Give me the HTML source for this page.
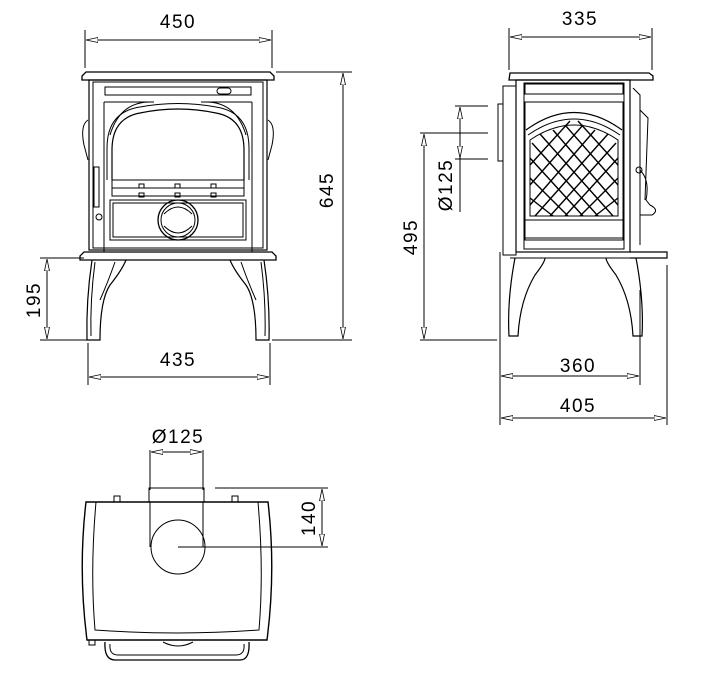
<!DOCTYPE html>
<html><head><meta charset="utf-8"><style>
html,body{margin:0;padding:0;background:#fff;}
svg{display:block;}
text{font-family:"Liberation Sans",sans-serif;font-size:19px;fill:#000;letter-spacing:1.5px;}
</style></head><body>
<svg width="709" height="680" viewBox="0 0 709 680" xmlns="http://www.w3.org/2000/svg">
<defs>
<marker id="a" viewBox="0 0 12 6" refX="12" refY="3" markerWidth="12" markerHeight="6" orient="auto-start-reverse" markerUnits="userSpaceOnUse">
<path d="M0,0.5 L12,3 L0,5.5 Z" fill="#fff" stroke="#000" stroke-width="0.8"/>
</marker>
</defs>
<g fill="none" stroke="#000" stroke-width="1">
<line x1="85" y1="30" x2="85" y2="68"/><line x1="272" y1="30" x2="272" y2="68"/>
<line x1="86" y1="40" x2="271" y2="40" marker-start="url(#a)" marker-end="url(#a)"/>
<line x1="276" y1="72" x2="352" y2="72"/><line x1="272" y1="340" x2="352" y2="340"/>
<line x1="343" y1="73" x2="343" y2="339" marker-start="url(#a)" marker-end="url(#a)"/>
<line x1="40" y1="258" x2="84" y2="258"/><line x1="40" y1="340" x2="88" y2="340"/>
<line x1="47" y1="259" x2="47" y2="339" marker-start="url(#a)" marker-end="url(#a)"/>
<line x1="88" y1="343" x2="88" y2="385"/><line x1="270" y1="343" x2="270" y2="385"/>
<line x1="89" y1="377" x2="269" y2="377" marker-start="url(#a)" marker-end="url(#a)"/>
<path d="M86,72 H270 L274,76 V80 H82 V76 Z" stroke-width="1.3"/>
<rect x="89" y="80" width="178" height="170" stroke-width="1.2"/>
<rect x="93" y="82" width="170" height="166"/>
<rect x="105" y="87" width="146" height="8"/>
<rect x="217" y="88" width="14" height="6" rx="3"/>
<path d="M104,102 H154 M252,102 H201"/>
<path d="M104,102 V252 M252,102 V252"/>
<path d="M110,135 Q120,102 150,102 M246,135 Q236,102 206,102"/>
<path d="M112,180 V150 Q112,118 140,113 Q178,105 216,113 Q244,118 244,150 V180" stroke-width="1.2"/>
<path d="M107,180 V148 Q107,112 140,107 Q178,100 216,107 Q249,112 249,148 V180"/>
<rect x="112" y="180" width="132" height="8"/><rect x="112" y="188" width="132" height="8"/>
<rect x="139" y="184" width="5" height="4"/><rect x="175" y="184" width="5" height="4"/><rect x="211" y="184" width="5" height="4"/>
<rect x="139" y="193" width="5" height="4"/><rect x="175" y="193" width="5" height="4"/><rect x="211" y="193" width="5" height="4"/>
<rect x="110" y="200" width="136" height="40"/><rect x="113" y="203" width="130" height="34"/>
<circle cx="178" cy="220" r="20" stroke-width="1.3"/><circle cx="178" cy="220" r="17"/>
<path d="M164,214 Q178,200 192,214 M164,226 Q178,240 192,226"/>
<rect x="94" y="167" width="5" height="40"/><circle cx="99" cy="217" r="3"/>
<path d="M88,120 Q80,125 84,145 L88,160 M268,120 Q276,125 272,145 L268,160"/>
<path d="M84,252 H272 L276,256 V260 H80 V256 Z" stroke-width="1.3"/>
<path d="M92,260 Q86,300 87,340 H100 Q100,300 110,285 Q122,270 126,260" stroke-width="1.2"/>
<path d="M95,262 Q90,300 91,336 M115,262 Q108,282 100,300"/>
<path d="M264,260 Q270,300 269,340 H256 Q256,300 246,285 Q234,270 230,260" stroke-width="1.2"/>
<path d="M261,262 Q266,300 265,336 M241,262 Q248,282 256,300"/>
<line x1="509" y1="28" x2="509" y2="70"/><line x1="652" y1="28" x2="652" y2="70"/>
<line x1="510" y1="37" x2="651" y2="37" marker-start="url(#a)" marker-end="url(#a)"/>
<line x1="455" y1="106" x2="488" y2="106"/><line x1="420" y1="133" x2="488" y2="133"/><line x1="455" y1="159" x2="488" y2="159"/>
<line x1="460" y1="107" x2="460" y2="158" marker-start="url(#a)" marker-end="url(#a)"/>
<line x1="460" y1="158" x2="460" y2="212"/>
<line x1="424" y1="134" x2="424" y2="339" marker-start="url(#a)" marker-end="url(#a)"/>
<line x1="420" y1="340" x2="497" y2="340"/>
<line x1="500" y1="252" x2="500" y2="425"/>
<line x1="640" y1="290" x2="640" y2="385"/><line x1="667" y1="265" x2="667" y2="425"/>
<line x1="501" y1="376" x2="639" y2="376" marker-start="url(#a)" marker-end="url(#a)"/>
<line x1="501" y1="418" x2="666" y2="418" marker-start="url(#a)" marker-end="url(#a)"/>
<rect x="498" y="104" width="5" height="57"/>
<path d="M510,73 H649 L653,76 V80 H509 Z" stroke-width="1.3"/>
<rect x="503" y="86" width="13" height="169"/>
<rect x="516" y="80" width="114" height="172" stroke-width="1.2"/>
<rect x="524" y="83" width="100" height="166"/>
<rect x="525" y="84" width="98" height="10"/>
<rect x="525" y="102" width="98" height="138"/>
<path d="M526,130 Q574,95 622,130" stroke-width="1.2"/>
<path d="M528,135 Q574,103 620,135 M530,140 V216 H618 V140 Q574,110 530,140" />
<rect x="525" y="220" width="98" height="18"/>
<g stroke-width="1.4">
<path d="M530,165 L570,121 M530,185 L583,125 M530,205 L595,130 M535,216 L608,134 M550,216 L616,143 M565,216 L618,158 M580,216 L618,178 M595,216 L618,198"/>
<path d="M618,165 L578,121 M618,185 L565,125 M618,205 L553,130 M613,216 L540,134 M598,216 L532,143 M583,216 L530,158 M568,216 L530,178 M553,216 L530,198"/>
</g>
<path d="M633,88 L640,95 L640,245 M640,110 L648,118 L645,200 M640,170 Q650,180 646,200 L650,205 Q660,210 652,215 L640,215"/>
<circle cx="639" cy="170" r="3"/>
<path d="M630,252 H667 V258 H630" stroke-width="1.2"/>
<line x1="510" y1="258" x2="640" y2="258"/>
<path d="M515,258 Q507,300 509,336 H518 Q520,300 535,275 Q545,262 545,258" stroke-width="1.2"/>
<path d="M636,258 Q644,300 642,336 H633 Q631,300 616,275 Q606,262 606,258" stroke-width="1.2"/>
<line x1="150" y1="450" x2="150" y2="490"/><line x1="203" y1="450" x2="203" y2="490"/>
<line x1="151" y1="452" x2="202" y2="452" marker-start="url(#a)" marker-end="url(#a)"/>
<line x1="215" y1="488" x2="328" y2="488"/><line x1="178" y1="547" x2="328" y2="547"/>
<line x1="322" y1="489" x2="322" y2="546" marker-start="url(#a)" marker-end="url(#a)"/>
<path d="M149,502 V488 H204 V502"/>
<line x1="150" y1="502" x2="150" y2="547"/><line x1="203" y1="502" x2="203" y2="547"/>
<circle cx="178" cy="547" r="27"/>
<rect x="114" y="496" width="6" height="6"/><rect x="232" y="496" width="6" height="6"/>
<path d="M86,502 H268 Q276,570 267,640 H87 Q78,570 86,502 Z" stroke-width="1.4"/>
<path d="M96,502 Q90,570 95,630 Q178,636 259,630 Q264,570 258,502"/>
<rect x="89" y="640" width="6" height="5"/>
<path d="M105,642 Q104,660 115,660 H240 Q250,660 249,642" stroke-width="1.3"/>
<path d="M110,644 Q109,655 118,655 H236 Q245,655 244,644"/>
<path d="M163,642 Q178,650 193,642"/>
</g>
<text x="178" y="28" text-anchor="middle">450</text>
<text x="178" y="366" text-anchor="middle">435</text>
<text transform="translate(333,190) rotate(-90)" text-anchor="middle">645</text>
<text transform="translate(40,300) rotate(-90)" text-anchor="middle">195</text>
<text x="580" y="25" text-anchor="middle">335</text>
<text x="578" y="372" text-anchor="middle">360</text>
<text x="578" y="412" text-anchor="middle">405</text>
<text transform="translate(452,185) rotate(-90)" text-anchor="middle">Ø125</text>
<text transform="translate(417,237) rotate(-90)" text-anchor="middle">495</text>
<text x="178" y="443" text-anchor="middle">Ø125</text>
<text transform="translate(315,518) rotate(-90)" text-anchor="middle">140</text>
</svg>
</body></html>
